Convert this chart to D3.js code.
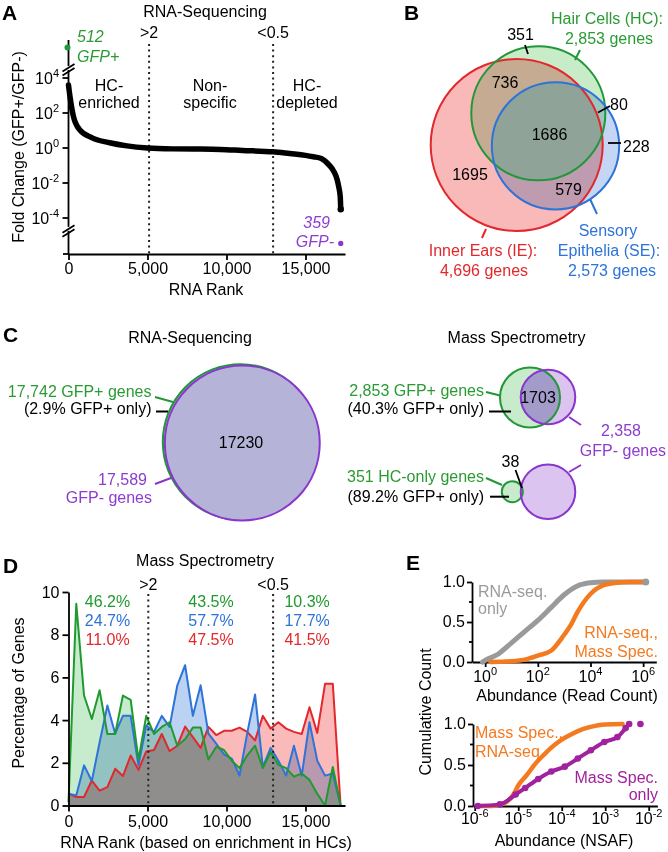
<!DOCTYPE html>
<html><head><meta charset="utf-8">
<script src="https://cdn.jsdelivr.net/npm/d3@7"></script>
<style>
body{margin:0;background:#fff;}
svg{display:block;font-family:"Liberation Sans",Arial,Helvetica,sans-serif;}
</style></head><body>
<svg id="fig" width="668" height="852"></svg>
<script>
// ================= DATA =================
// Panel A : RNA-seq fold change (log10 of GFP+/GFP-) versus RNA rank
const rankA = [0, 100, 300, 700, 1500, 2600, 3700, 5000, 6600, 8000, 9600, 11000, 12950, 14000, 15000, 15500, 16000, 16500, 16800, 17000, 17100, 17200, 17230];
const logFoldA = [3.6, 2.9, 1.85, 1.05, 0.58, 0.3, 0.12, 0.0, -0.05, -0.06, -0.08, -0.14, -0.22, -0.32, -0.42, -0.5, -0.6, -0.98, -1.35, -1.8, -2.2, -2.8, -3.5];
const onlyCountA = ["512", "359"];
const onlyNameA = ["GFP+", "GFP-"];
const onlyRankA = [0, 17230];
const onlyLogFoldA = [5.75, -5.45];
const thresholdRankA = [5100, 12950];
const thresholdLabelA = [">2", "<0.5"];
const regionLabelA = [["HC-", "enriched"], ["Non-", "specific"], ["HC-", "depleted"]];
const xTicksA = [0, 5000, 10000, 15000];
const yTicksA = [4, 2, 0, -2, -4];
const breaksA = [4.6, -4.62];

// Panel B : Venn of genes detected by mass spec
const setNameB = [["Inner Ears (IE):", "4,696 genes"], ["Hair Cells (HC):", "2,853 genes"], ["Sensory", "Epithelia (SE):", "2,573 genes"]];
const setSizeB = [4696, 2853, 2573];
const regionCountB = [1695, 736, 1686, 579, 351, 80, 228];

// Panel C : RNA-seq and mass spec overlaps
const rnaSetSizeC = [17742, 17589];
const rnaOverlapC = 17230;
const rnaLabelC = ["17,742 GFP+ genes", "(2.9% GFP+ only)", "17,589", "GFP- genes"];
const msSetSizeC = [2853, 2358];
const msOverlapC = 1703;
const msLabelC = ["2,853 GFP+ genes", "(40.3% GFP+ only)", "2,358", "GFP- genes"];
const hcOnlySizeC = 351;
const hcOnlyOverlapC = 38;
const hcOnlyLabelC = ["351 HC-only genes", "(89.2% GFP+ only)"];

// Panel D : percentage of genes per RNA-rank bin
const rankD = [0, 492, 984, 1476, 1968, 2460, 2952, 3444, 3936, 4428, 4920, 5412, 5904, 6396, 6888, 7380, 7872, 8364, 8856, 9348, 9840, 10332, 10824, 11316, 11808, 12300, 12792, 13284, 13776, 14268, 14760, 15252, 15744, 16236, 16728, 17220];
const hcD = [0.15, 9.45, 5.15, 4.05, 5.4, 3.35, 3.35, 5.15, 4.95, 2.15, 4.2, 3.35, 3.68, 3.9, 2.8, 3.1, 3.65, 3.65, 2.15, 2.75, 2.6, 2.1, 1.75, 2.35, 2.8, 1.75, 2.5, 1.9, 1.75, 1.35, 1.5, 1.2, 0.55, 0.0, 1.8, 0.0];
const seD = [0.55, 0.47, 1.88, 1.15, 2.95, 4.68, 3.37, 4.2, 4.2, 1.88, 3.76, 3.44, 4.2, 3.68, 5.63, 6.57, 4.2, 5.63, 3.37, 2.9, 2.4, 2.2, 1.4, 3.4, 5.2, 1.8, 2.7, 2.1, 1.4, 2.8, 1.4, 3.9, 2.1, 1.4, 1.5, 0.0];
const ieD = [0.55, 0.4, 0.4, 1.17, 0.7, 0.86, 1.72, 1.38, 2.34, 1.67, 2.53, 2.6, 3.35, 2.55, 2.8, 3.7, 3.2, 2.7, 3.68, 3.3, 3.5, 3.5, 3.65, 3.45, 3.05, 4.2, 3.6, 3.9, 3.6, 3.45, 3.35, 4.6, 3.4, 5.7, 5.7, 0.0];
const pctHcD = ["46.2%", "43.5%", "10.3%"];
const pctSeD = ["24.7%", "57.7%", "17.7%"];
const pctIeD = ["11.0%", "47.5%", "41.5%"];
const pctColRankD = [2470, 9020, 15100];
const thresholdRankD = [5050, 12950];
const thresholdLabelD = [">2", "<0.5"];
const xTicksD = [0, 5000, 10000, 15000];
const yTicksD = [0, 2, 4, 6, 8, 10];

// Panel E (top) : cumulative count vs log10 read count
const rnaOnlyLogE = [-0.1, 0, 0.5, 1.0, 1.5, 2.0, 2.5, 3.0, 3.5, 4.0, 4.5, 5.0, 6.1];
const rnaOnlyCdfE = [0.0, 0.02, 0.1, 0.24, 0.38, 0.52, 0.68, 0.84, 0.95, 0.99, 1.0, 1.0, 1.0];
const rnaMsLogE = [0.2, 1.0, 1.5, 2.0, 2.5, 3.0, 3.25, 3.5, 3.75, 4.0, 4.5, 5.0, 5.5, 6.1];
const rnaMsCdfE = [0.0, 0.01, 0.03, 0.08, 0.14, 0.34, 0.46, 0.62, 0.75, 0.85, 0.96, 0.99, 1.0, 1.0];
const xTicksE1 = [0, 2, 4, 6];
// Panel E (bottom) : cumulative count vs log10 NSAF
const msRnaLogE = [-5.9, -5.6, -5.3, -5.1, -5.0, -4.8, -4.6, -4.4, -4.2, -4.0, -3.8, -3.5, -3.2, -3.0, -2.6];
const msRnaCdfE = [0.0, 0.0, 0.04, 0.15, 0.25, 0.38, 0.52, 0.63, 0.73, 0.81, 0.87, 0.94, 0.98, 0.995, 1.0];
const msOnlyLogE = [-5.93, -5.42, -5.06, -4.84, -4.54, -4.24, -3.93, -3.63, -3.33, -3.02, -2.72, -2.53, -2.45, -2.19];
const msOnlyCdfE = [0.0, 0.02, 0.14, 0.22, 0.33, 0.42, 0.48, 0.58, 0.68, 0.78, 0.84, 0.95, 1.0, 1.0];
const xTicksE2 = [-6, -5, -4, -3, -2];
const yTicksE = [0, 0.5, 1];

// ================= DRAWING =================
const svg = d3.select("#fig");
svg.append("rect").attr("width", 668).attr("height", 852).attr("fill", "#fff");
const FONT = '"Liberation Sans", Arial, Helvetica, sans-serif';
const GREEN = "#22973a", PURPLE = "#8a35cc", RED = "#e2282c", BLUE = "#2d73d8";
const GREENTXT = "#2a9b33", PURPLETXT = "#8c3ccf";

function label(g, x, y, s, o = {}) {
  const t = g.append("text").attr("x", x).attr("y", y).text(s)
    .attr("font-size", o.size || 16).attr("fill", o.fill || "#000")
    .attr("text-anchor", o.anchor || "middle").attr("font-family", FONT);
  if (o.weight) t.attr("font-weight", o.weight);
  if (o.italic) t.attr("font-style", "italic");
  return t;
}
function seg(g, x1, y1, x2, y2, color, w) {
  return g.append("line").attr("x1", x1).attr("y1", y1).attr("x2", x2).attr("y2", y2)
    .attr("stroke", color || "#000").attr("stroke-width", w || 1.8);
}
function pow10(g, x, y, exp, anchor) {
  const t = g.append("text").attr("x", x).attr("y", y).attr("text-anchor", anchor || "middle")
    .attr("font-size", 16).attr("font-family", FONT).attr("fill", "#000");
  t.append("tspan").text("10");
  t.append("tspan").attr("dy", -7).attr("font-size", 11).text(exp);
  return t;
}
function styleAxis(g) {
  g.selectAll("path,line").attr("stroke", "#000").attr("stroke-width", 1.8);
  g.selectAll("text").attr("font-size", 16).attr("font-family", FONT).attr("fill", "#000");
}
function vlabel(g, x, y, s) {
  g.append("text").attr("transform", `translate(${x},${y}) rotate(-90)`)
    .attr("text-anchor", "middle").attr("font-size", 16).attr("font-family", FONT).text(s);
}

// ---------- Panel A ----------
const gA = svg.append("g");
label(gA, 2, 20, "A", { anchor: "start", size: 21, weight: "bold" });
label(gA, 205, 17, "RNA-Sequencing");
const xA = d3.scaleLinear().domain([0, 17500]).range([68.5, 345]);
const yA = d3.scaleLinear().domain([-4, 4]).range([218, 78]);
const axisYA = 254;
const gxA = gA.append("g").attr("transform", `translate(0,${axisYA})`)
  .call(d3.axisBottom(xA).tickValues(xTicksA).tickFormat(d3.format(",")).tickSize(6).tickSizeOuter(0));
styleAxis(gxA);
seg(gA, 63, axisYA, xA(0), axisYA);
const ax0 = xA(0);
seg(gA, ax0, 40, ax0, yA(breaksA[0]) - 1.5);
seg(gA, ax0, yA(breaksA[0]) + 2.5, ax0, yA(breaksA[1]) - 2);
seg(gA, ax0, yA(breaksA[1]) + 2, ax0, axisYA);
breaksA.forEach(b => {
  const yc = yA(b);
  seg(gA, ax0 - 6, yc + 4, ax0 + 6, yc - 3.5, "#000", 1.8);
  seg(gA, ax0 - 6, yc + 8, ax0 + 6, yc + 0.5, "#000", 1.8);
});
yTicksA.forEach(t => {
  seg(gA, ax0 - 6, yA(t), ax0, yA(t));
  pow10(gA, 59, yA(t) + 6, String(t), "end");
});
vlabel(gA, 24, 147, "Fold Change (GFP+/GFP-)");
label(gA, 206, 295, "RNA Rank");
thresholdRankA.forEach((r, i) => {
  seg(gA, xA(r), 44, xA(r), axisYA, "#222", 2).attr("stroke-dasharray", "2,3.6");
  label(gA, xA(r), 38, thresholdLabelA[i]);
});
regionLabelA.forEach((ls, i) => {
  const cx = [109, 210, 307][i];
  label(gA, cx, 91, ls[0]);
  label(gA, cx, 108, ls[1]);
});
const ptsA = rankA.map((r, i) => [xA(r), yA(logFoldA[i])]);
gA.append("path").attr("d", d3.line().curve(d3.curveMonotoneX)(ptsA))
  .attr("fill", "none").attr("stroke", "#000").attr("stroke-width", 5.5).attr("stroke-linecap", "round");
gA.append("circle").attr("cx", xA(rankA[rankA.length - 1])).attr("cy", yA(logFoldA[logFoldA.length - 1])).attr("r", 3.2).attr("fill", "#000");
gA.append("circle").attr("cx", xA(onlyRankA[0]) - 1).attr("cy", yA(onlyLogFoldA[0])).attr("r", 3).attr("fill", "#1f9a3a");
gA.append("circle").attr("cx", xA(onlyRankA[1])).attr("cy", yA(onlyLogFoldA[1])).attr("r", 2.6).attr("fill", PURPLE);
label(gA, 77, 42, onlyCountA[0], { anchor: "start", fill: GREENTXT, italic: true });
label(gA, 77, 62, onlyNameA[0], { anchor: "start", fill: GREENTXT, italic: true });
label(gA, 330, 228, onlyCountA[1], { anchor: "end", fill: PURPLETXT, italic: true });
label(gA, 334, 247, onlyNameA[1], { anchor: "end", fill: PURPLETXT, italic: true });

// ---------- Panel B ----------
const gB = svg.append("g");
label(gB, 404, 20, "B", { anchor: "start", size: 21, weight: "bold" });
const rB = d3.scaleSqrt().domain([0, setSizeB[0]]).range([0, 86]);
const centersB = [[516.7, 145], [538.3, 113.3], [555.5, 145.8]];
const fillB = ["#f9b9b9", "#c9ecc8", "#c4d6f3"];
const strokeB = [RED, GREEN, BLUE];
const defs = svg.append("defs");
centersB.forEach((c, i) => {
  defs.append("clipPath").attr("id", "clipB" + i).append("circle")
    .attr("cx", c[0]).attr("cy", c[1]).attr("r", rB(setSizeB[i]));
});
const blendB = gB.append("g").style("isolation", "isolate");
centersB.forEach((c, i) => {
  blendB.append("circle").attr("cx", c[0]).attr("cy", c[1]).attr("r", rB(setSizeB[i]))
    .attr("fill", fillB[i]).style("mix-blend-mode", "multiply");
});
gB.append("g").attr("clip-path", "url(#clipB2)").append("circle")
  .attr("cx", centersB[0][0]).attr("cy", centersB[0][1]).attr("r", rB(setSizeB[0]))
  .attr("clip-path", "url(#clipB1)").attr("fill", "#8fa398");
[0, 1, 2].forEach(i => {
  gB.append("circle").attr("cx", centersB[i][0]).attr("cy", centersB[i][1]).attr("r", rB(setSizeB[i]))
    .attr("fill", "none").attr("stroke", strokeB[i]).attr("stroke-width", 2);
});
const countPosB = [[470, 180], [505, 88], [549.5, 140], [568.5, 195], [520.5, 40], [610, 110], [623, 152]];
regionCountB.forEach((v, i) => {
  label(gB, countPosB[i][0], countPosB[i][1], String(v), { anchor: i >= 5 ? "start" : "middle" });
});
seg(gB, 525, 45, 528, 54);
seg(gB, 598, 112.5, 610, 106);
seg(gB, 608, 143, 621, 143);
seg(gB, 575, 60, 580, 50, GREEN, 2);
seg(gB, 486, 229, 482, 238, RED, 2);
seg(gB, 590, 199, 597, 214, BLUE, 2);
label(gB, 483, 256, setNameB[0][0], { fill: RED });
label(gB, 484, 276, setNameB[0][1], { fill: RED });
label(gB, 607, 24, setNameB[1][0], { fill: GREENTXT });
label(gB, 609, 44, setNameB[1][1], { fill: GREENTXT });
label(gB, 608, 236, setNameB[2][0], { fill: BLUE });
label(gB, 609, 256, setNameB[2][1], { fill: BLUE });
label(gB, 612, 276, setNameB[2][2], { fill: BLUE });

// ---------- Panel C ----------
const gC = svg.append("g");
label(gC, 3, 342, "C", { anchor: "start", size: 21, weight: "bold" });
label(gC, 190, 343, "RNA-Sequencing");
label(gC, 516.5, 343, "Mass Spectrometry");
const rRna = d3.scaleSqrt().domain([0, rnaSetSizeC[0]]).range([0, 77.8]);
gC.append("circle").attr("cx", 240.6).attr("cy", 442).attr("r", rRna(rnaSetSizeC[0])).attr("fill", "#b6b3d9")
  .attr("stroke", GREEN).attr("stroke-width", 2);
gC.append("circle").attr("cx", 242.3).attr("cy", 443).attr("r", rRna(rnaSetSizeC[1])).attr("fill", "#b6b3d9")
  .attr("stroke", PURPLE).attr("stroke-width", 2);
label(gC, 241, 448, String(rnaOverlapC));
label(gC, 151.5, 397, rnaLabelC[0], { anchor: "end", fill: GREENTXT });
label(gC, 151.5, 414, rnaLabelC[1], { anchor: "end" });
label(gC, 147, 485, rnaLabelC[2], { anchor: "end", fill: PURPLETXT });
label(gC, 152, 503, rnaLabelC[3], { anchor: "end", fill: PURPLETXT });
seg(gC, 155, 397, 173, 402, GREEN, 2);
seg(gC, 156, 411.5, 168, 411.5, "#000", 2);
seg(gC, 155, 484, 171, 478, PURPLE, 2);

const rMs = d3.scaleSqrt().domain([0, msSetSizeC[0]]).range([0, 30]);
const msG = [530, 397.5], msP = [548, 397];
defs.append("clipPath").attr("id", "clipMsG").append("circle").attr("cx", msG[0]).attr("cy", msG[1]).attr("r", rMs(msSetSizeC[0]));
gC.append("circle").attr("cx", msG[0]).attr("cy", msG[1]).attr("r", rMs(msSetSizeC[0])).attr("fill", "#c8ebcb");
gC.append("circle").attr("cx", msP[0]).attr("cy", msP[1]).attr("r", rMs(msSetSizeC[1])).attr("fill", "#dcc4f0");
gC.append("circle").attr("cx", msP[0]).attr("cy", msP[1]).attr("r", rMs(msSetSizeC[1])).attr("fill", "#a39ccb").attr("clip-path", "url(#clipMsG)");
gC.append("circle").attr("cx", msG[0]).attr("cy", msG[1]).attr("r", rMs(msSetSizeC[0])).attr("fill", "none").attr("stroke", GREEN).attr("stroke-width", 2);
gC.append("circle").attr("cx", msP[0]).attr("cy", msP[1]).attr("r", rMs(msSetSizeC[1])).attr("fill", "none").attr("stroke", PURPLE).attr("stroke-width", 2);
label(gC, 538, 403, String(msOverlapC));
label(gC, 484, 396, msLabelC[0], { anchor: "end", fill: GREENTXT });
label(gC, 484, 414, msLabelC[1], { anchor: "end" });
label(gC, 621, 436, msLabelC[2], { fill: PURPLETXT });
label(gC, 623, 456, msLabelC[3], { fill: PURPLETXT });
seg(gC, 486, 392, 500, 395.5, GREEN, 2);
seg(gC, 489, 411.5, 511, 411.5, "#000", 2);
seg(gC, 569, 417, 581, 425, PURPLE, 2);

const hcG = [512.3, 491.7], hcP = [548, 491.7];
gC.append("circle").attr("cx", hcP[0]).attr("cy", hcP[1]).attr("r", rMs(msSetSizeC[1])).attr("fill", "#dcc4f0");
gC.append("circle").attr("cx", hcG[0]).attr("cy", hcG[1]).attr("r", rMs(hcOnlySizeC)).attr("fill", "#c8ebcb");
gC.append("circle").attr("cx", hcG[0]).attr("cy", hcG[1]).attr("r", rMs(hcOnlySizeC)).attr("fill", "none").attr("stroke", GREEN).attr("stroke-width", 2);
gC.append("circle").attr("cx", hcP[0]).attr("cy", hcP[1]).attr("r", rMs(msSetSizeC[1])).attr("fill", "none").attr("stroke", PURPLE).attr("stroke-width", 2);
label(gC, 510.5, 467, String(hcOnlyOverlapC));
seg(gC, 515.5, 470, 522, 488, "#000", 1.8);
label(gC, 484, 482, hcOnlyLabelC[0], { anchor: "end", fill: GREENTXT });
label(gC, 484, 502, hcOnlyLabelC[1], { anchor: "end" });
seg(gC, 486, 478, 502, 485, GREEN, 2);
seg(gC, 490, 496.7, 509, 496.7, "#000", 2);
seg(gC, 569, 472, 581, 465, PURPLE, 2);

// ---------- Panel D ----------
const gD = svg.append("g");
label(gD, 3, 573, "D", { anchor: "start", size: 21, weight: "bold" });
label(gD, 205, 566, "Mass Spectrometry");
const xD = d3.scaleLinear().domain([0, 17500]).range([68.5, 345]);
const yD = d3.scaleLinear().domain([0, 10]).range([805.5, 592]);
const seriesD = [
  { v: ieD, fill: "#fbbaba", stroke: RED },
  { v: seD, fill: "#bcd2f2", stroke: BLUE },
  { v: hcD, fill: "#c6eccd", stroke: "#1f9a2e" }
];
const areaD = d3.area().x((d, i) => xD(rankD[i])).y0(yD(0)).y1(d => yD(d));
const lineD = d3.line().x((d, i) => xD(rankD[i])).y(d => yD(d));
const blendD = gD.append("g").style("isolation", "isolate");
seriesD.forEach(s => {
  blendD.append("path").attr("d", areaD(s.v)).attr("fill", s.fill).style("mix-blend-mode", "multiply");
});
seriesD.forEach(s => {
  gD.append("path").attr("d", lineD(s.v)).attr("fill", "none").attr("stroke", s.stroke)
    .attr("stroke-width", 2).attr("stroke-linejoin", "round");
});
thresholdRankD.forEach((r, i) => {
  seg(gD, xD(r), 594, xD(r), yD(0), "#222", 2).attr("stroke-dasharray", "2,3.6");
  label(gD, xD(r), 590, thresholdLabelD[i]);
});
pctColRankD.forEach((r, i) => {
  label(gD, xD(r), 607, pctHcD[i], { fill: "#1f9a2e" });
  label(gD, xD(r), 626, pctSeD[i], { fill: BLUE });
  label(gD, xD(r), 645, pctIeD[i], { fill: RED });
});
const gxD = gD.append("g").attr("transform", `translate(0,${yD(0)})`)
  .call(d3.axisBottom(xD).tickValues(xTicksD).tickFormat(d3.format(",")).tickSize(6).tickSizeOuter(0));
styleAxis(gxD);
gxD.selectAll("text").attr("y", 10);
const gyD = gD.append("g").attr("transform", `translate(${xD(0)},0)`)
  .call(d3.axisLeft(yD).tickValues(yTicksD).tickSize(6).tickSizeOuter(0));
styleAxis(gyD);
vlabel(gD, 24, 693, "Percentage of Genes");
label(gD, 206, 848, "RNA Rank (based on enrichment in HCs)");

// ---------- Panel E ----------
const gE = svg.append("g");
label(gE, 406, 570, "E", { anchor: "start", size: 21, weight: "bold" });
vlabel(gE, 431, 712, "Cumulative Count");
function cdfPanel(xs, ys, xTicks, axisY, x0) {
  const gy = gE.append("g").attr("transform", `translate(${x0},0)`)
    .call(d3.axisLeft(ys).tickValues(yTicksE).tickFormat(d3.format(".1f")).tickSize(5).tickSizeOuter(0));
  styleAxis(gy);
  gy.selectAll("text").attr("x", -7).attr("dy", "0.28em");
  [0.25, 0.75].forEach(v => seg(gE, x0 - 3, ys(v), x0, ys(v)));
  const gx = gE.append("g").attr("transform", `translate(0,${axisY})`)
    .call(d3.axisBottom(xs).tickValues(xTicks).tickFormat(() => "").tickSize(5).tickSizeOuter(0));
  styleAxis(gx);
}
const xE1 = d3.scaleLinear().domain([-0.5, 6.5]).range([472, 656.3]);
const yE1 = d3.scaleLinear().domain([0, 1]).range([662, 582]);
cdfPanel(xE1, yE1, xTicksE1, 662, 472);
xTicksE1.forEach(t => pow10(gE, xE1(t), 681.5, String(t)));
label(gE, 567, 701, "Abundance (Read Count)");
const lineE1 = (lx, ly) => d3.line().curve(d3.curveMonotoneX)(lx.map((v, i) => [xE1(v), yE1(ly[i])]));
gE.append("path").attr("d", lineE1(rnaOnlyLogE, rnaOnlyCdfE)).attr("fill", "none").attr("stroke", "#9a9a9a").attr("stroke-width", 5).attr("stroke-linecap", "round");
gE.append("path").attr("d", lineE1(rnaMsLogE, rnaMsCdfE)).attr("fill", "none").attr("stroke", "#f47a1f").attr("stroke-width", 4.5).attr("stroke-linecap", "round");
gE.append("circle").attr("cx", xE1(rnaOnlyLogE[rnaOnlyLogE.length - 1])).attr("cy", yE1(1)).attr("r", 3.5).attr("fill", "#9a9a9a");
label(gE, 478, 597, "RNA-seq.", { anchor: "start", fill: "#9a9a9a" });
label(gE, 478, 614, "only", { anchor: "start", fill: "#9a9a9a" });
label(gE, 658, 638, "RNA-seq.,", { anchor: "end", fill: "#f47a1f" });
label(gE, 658, 657, "Mass Spec.", { anchor: "end", fill: "#f47a1f" });

const xE2 = d3.scaleLinear().domain([-6.04, -1.8]).range([473, 657.4]);
const yE2 = d3.scaleLinear().domain([0, 1]).range([806, 724]);
cdfPanel(xE2, yE2, xTicksE2, 806, 473);
xTicksE2.forEach(t => pow10(gE, xE2(t), 823.5, String(t)));
label(gE, 564, 846, "Abundance (NSAF)");
const lineE2 = (lx, ly) => d3.line().curve(d3.curveMonotoneX)(lx.map((v, i) => [xE2(v), yE2(ly[i])]));
gE.append("path").attr("d", lineE2(msRnaLogE, msRnaCdfE)).attr("fill", "none").attr("stroke", "#f47a1f").attr("stroke-width", 4.5).attr("stroke-linecap", "round");
const nP = msOnlyLogE.length;
gE.append("path").attr("d", lineE2(msOnlyLogE.slice(0, nP - 1), msOnlyCdfE.slice(0, nP - 1))).attr("fill", "none").attr("stroke", "#a1229f").attr("stroke-width", 4).attr("stroke-linecap", "round");
msOnlyLogE.forEach((v, i) => {
  gE.append("circle").attr("cx", xE2(v)).attr("cy", yE2(msOnlyCdfE[i])).attr("r", 3.3).attr("fill", "#a1229f");
});
label(gE, 475, 738, "Mass Spec.,", { anchor: "start", fill: "#f47a1f" });
label(gE, 475, 757, "RNA-seq.", { anchor: "start", fill: "#f47a1f" });
label(gE, 658, 783, "Mass Spec.", { anchor: "end", fill: "#a1229f" });
label(gE, 658, 800, "only", { anchor: "end", fill: "#a1229f" });
</script>
</body></html>
